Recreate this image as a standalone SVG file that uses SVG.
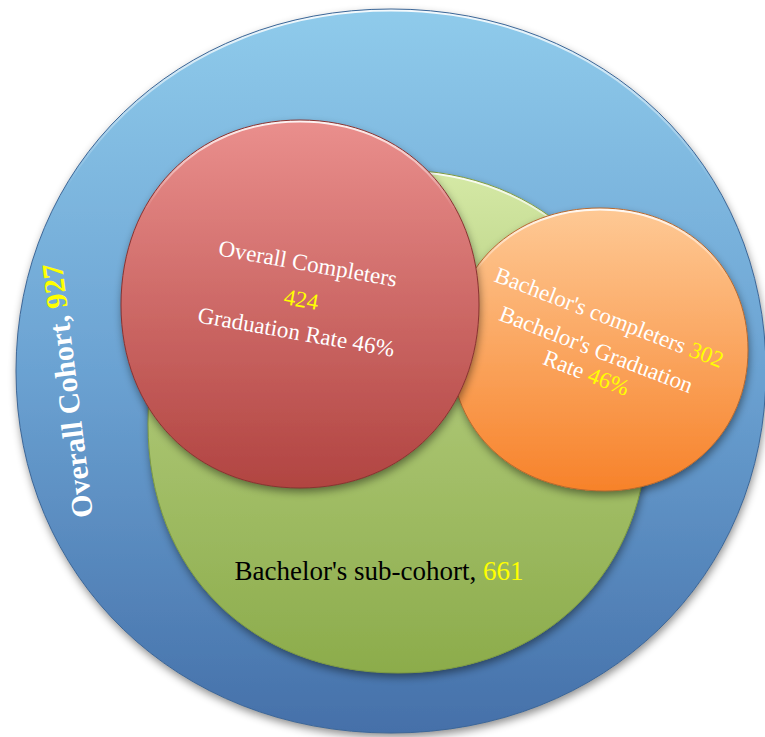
<svg xmlns="http://www.w3.org/2000/svg" xmlns:xlink="http://www.w3.org/1999/xlink" width="765" height="737" viewBox="0 0 765 737">
  <style>
    .t { font-family: "Liberation Serif", "Times New Roman", serif; }
    .w { fill: #FFFFFF; }
    .y { fill: #FFFF00; }
    .k { fill: #000000; }
    .hl { fill: none; stroke: url(#gHl); stroke-width: 5; }
  </style>
  <defs>
    <path id="shBlue" d="M 766,371 C 766,577.3 604.75,733 391,733 C 177.25,733 16,577.3 16,371 C 16,164.7 177.25,9 391,9 C 604.75,9 766,164.7 766,371 Z"/>
    <path id="shGreen" d="M 648,424 C 648,570.9 545.5,673 398,673 C 250.5,673 148,570.9 148,424 C 148,274.1 250.5,170 398,170 C 545.5,170 648,274.1 648,424 Z"/>
    <path id="shRed" d="M 479,305 C 479,412.1 404.7,488 300,488 C 195.3,488 121,412.1 121,305 C 121,196.8 195.3,120 300,120 C 404.7,120 479,196.8 479,305 Z"/>
    <path id="shOrange" d="M 748,350 C 748,431.8 685.8,491 605,491 C 513.6,491 451,431.8 451,350 C 451,267.6 513.6,208 600,208 C 685.8,208 748,267.6 748,350 Z"/>
    <linearGradient id="gBlue" x1="0" y1="0" x2="0" y2="1">
      <stop offset="0" stop-color="#8FCBEB"/>
      <stop offset="0.5" stop-color="#6BA2D2"/>
      <stop offset="1" stop-color="#4570A9"/>
    </linearGradient>
    <linearGradient id="gGreen" x1="0" y1="0" x2="0" y2="1">
      <stop offset="0" stop-color="#D5E9A6"/>
      <stop offset="0.5" stop-color="#A8C36F"/>
      <stop offset="1" stop-color="#8CAC4B"/>
    </linearGradient>
    <linearGradient id="gRed" x1="0" y1="0" x2="0" y2="1">
      <stop offset="0" stop-color="#EA8F8D"/>
      <stop offset="1" stop-color="#B14441"/>
    </linearGradient>
    <linearGradient id="gOrange" x1="0" y1="0" x2="0" y2="1">
      <stop offset="0" stop-color="#FEC995"/>
      <stop offset="1" stop-color="#F7822A"/>
    </linearGradient>
    <linearGradient id="gHl" x1="0" y1="0" x2="0" y2="1">
      <stop offset="0" stop-color="#FFFFFF" stop-opacity="0.9"/>
      <stop offset="0.25" stop-color="#FFFFFF" stop-opacity="0"/>
      <stop offset="1" stop-color="#FFFFFF" stop-opacity="0"/>
    </linearGradient>
    <clipPath id="cBlue"><use xlink:href="#shBlue"/></clipPath>
    <clipPath id="cGreen"><use xlink:href="#shGreen"/></clipPath>
    <clipPath id="cRed"><use xlink:href="#shRed"/></clipPath>
    <clipPath id="cOrange"><use xlink:href="#shOrange"/></clipPath>
    <filter id="shadow" x="-10%" y="-10%" width="120%" height="125%">
      <feDropShadow dx="1" dy="4" stdDeviation="4" flood-color="#000000" flood-opacity="0.45"/>
    </filter>
  </defs>

  <rect x="0" y="0" width="765" height="737" fill="#FFFFFF"/>

  <g id="node-overall-cohort">
    <use xlink:href="#shBlue" fill="url(#gBlue)" filter="url(#shadow)"/>
    <use xlink:href="#shBlue" class="hl" clip-path="url(#cBlue)"/>
    <use xlink:href="#shBlue" fill="none" stroke="#3E6797" stroke-width="1"/>
    <text class="t w" transform="translate(77.5,389.5) rotate(-97)" text-anchor="middle" font-size="30" font-weight="bold">Overall Cohort, <tspan class="y">927</tspan></text>
  </g>

  <g id="node-bachelor-subcohort">
    <use xlink:href="#shGreen" fill="url(#gGreen)" filter="url(#shadow)"/>
    <use xlink:href="#shGreen" class="hl" clip-path="url(#cGreen)"/>
    <use xlink:href="#shGreen" fill="none" stroke="#7D9A42" stroke-width="1"/>
    <text class="t k" x="379" y="580" text-anchor="middle" font-size="27">Bachelor's sub-cohort, <tspan class="y">661</tspan></text>
  </g>

  <g id="node-bachelor-completers">
    <use xlink:href="#shOrange" fill="url(#gOrange)" filter="url(#shadow)"/>
    <use xlink:href="#shOrange" class="hl" clip-path="url(#cOrange)"/>
    <use xlink:href="#shOrange" fill="none" stroke="#B7692F" stroke-width="1"/>
    <text class="t w" transform="translate(606.5,324.5) rotate(21)" text-anchor="middle" font-size="23">Bachelor's completers <tspan class="y">302</tspan></text>
    <text class="t w" transform="translate(593.5,356.5) rotate(21)" text-anchor="middle" font-size="23">Bachelor's Graduation</text>
    <text class="t w" transform="translate(583.5,380) rotate(21)" text-anchor="middle" font-size="23">Rate <tspan class="y">46%</tspan></text>
  </g>

  <g id="node-overall-completers">
    <use xlink:href="#shRed" fill="url(#gRed)" filter="url(#shadow)"/>
    <use xlink:href="#shRed" class="hl" clip-path="url(#cRed)"/>
    <use xlink:href="#shRed" fill="none" stroke="#883331" stroke-width="1"/>
    <text class="t w" transform="translate(306.5,271) rotate(10)" text-anchor="middle" font-size="23">Overall Completers</text>
    <text class="t y" transform="translate(300,307) rotate(10)" text-anchor="middle" font-size="23">424</text>
    <text class="t w" transform="translate(295,339.5) rotate(10)" text-anchor="middle" font-size="23">Graduation Rate 46%</text>
  </g>

  <g id="connectors"/>
</svg>
